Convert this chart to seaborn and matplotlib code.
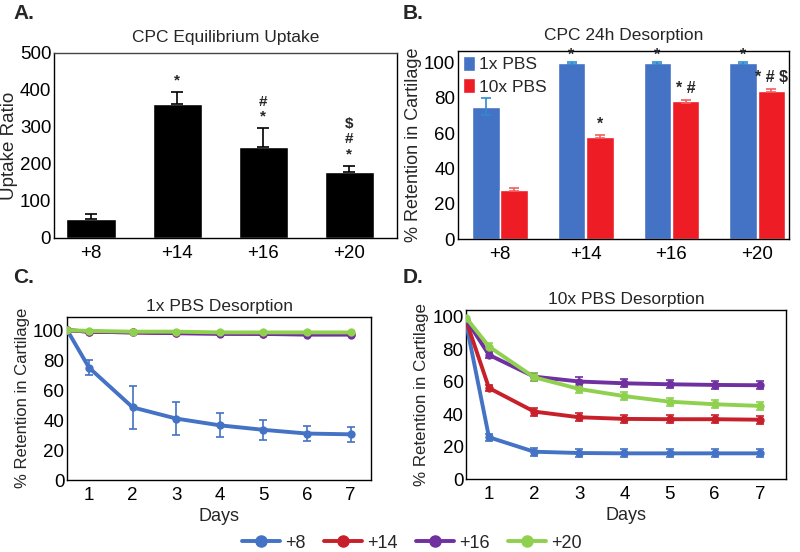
import numpy as np
import pandas as pd
import matplotlib
matplotlib.use("Agg")
import matplotlib.pyplot as plt
import seaborn as sns
from matplotlib.lines import Line2D

sns.set_theme(style="white")
plt.rcParams['font.family'] = ['Liberation Sans', 'DejaVu Sans']

# ---------------- data ----------------
charges = ["+8", "+14", "+16", "+20"]

# Panel A: equilibrium uptake
uptake = [50, 363, 245, 179]
uptake_err = [15, 32, 52, 16]
uptake_marks = ["", "*", "#\n*", "$\n#\n*"]

# Panel B: 24h desorption
pbs1 = [75, 99.5, 99.5, 99.5]
pbs1_err = [5, 0.5, 0.5, 0.5]
pbs10 = [28, 58, 78, 84]
pbs10_err = [0.8, 1.0, 1.0, 1.0]
pbs1_marks = ["", "*", "*", "*"]
pbs10_marks = ["", "*", "* #", "* # $"]

# Panels C & D: time courses
days = [0.5, 1, 2, 3, 4, 5, 6, 7]
day_ticks = [1, 2, 3, 4, 5, 6, 7]
c_p8 = [100, 75, 48.5, 41, 36.5, 33.5, 31, 30.5]
c_p8_err = [0, 5, 14.5, 11, 8, 6.5, 5, 5]
c_p14 = [100, 99, 98.5, 98, 98, 97.5, 97.5, 97.5]
c_p16 = [100, 99, 98.5, 98, 97.5, 97.5, 97, 97]
c_p20 = [100, 99.5, 99, 99, 98.5, 98.5, 98.5, 98.5]
c_small_err = [0, 0.5, 0.5, 0.5, 0.5, 0.5, 0.5, 0.5]

d_p8 = [95, 25.7, 16.8, 16, 15.8, 15.8, 15.8, 15.8]
d_p14 = [97, 56, 41.5, 38, 37, 36.8, 36.8, 36.5]
d_p16 = [98, 76.4, 63, 60, 58.9, 58.3, 57.9, 57.7]
d_p20 = [99, 81.5, 62.6, 55.4, 51, 47.6, 46, 45]
d_err = [0, 2, 2.5, 2.5, 2.5, 2.5, 2.5, 2.5]

line_colors = {"+8": "#4472C4", "+14": "#C8202B", "+16": "#7030A0", "+20": "#8FD14F"}
blue_bar = "#4472C4"
red_bar = "#EE1C25"

fig = plt.figure(figsize=(8, 5.52), dpi=100)

def frame(ax):
    for s in ax.spines.values():
        s.set_visible(True)
        s.set_color("black")
        s.set_linewidth(1.0)
    ax.tick_params(axis="both", length=0, labelsize=13.5, colors="black")
    ax.tick_params(axis="y", pad=2)
    ax.tick_params(axis="x", pad=5)

# ---------------- Panel A ----------------
axA = fig.add_axes([0.0675, 0.569, 0.4285, 0.335])
dfA = pd.DataFrame({"charge": charges, "uptake": uptake})
sns.barplot(data=dfA, x="charge", y="uptake", color="black", width=0.57,
            errorbar=None, ax=axA, saturation=1)
axA.errorbar(range(len(charges)), uptake, yerr=[np.zeros(4), uptake_err],
             fmt="none", ecolor="black", elinewidth=1.2, capsize=4, capthick=1.2)
for i, m in enumerate(uptake_marks):
    if m:
        axA.text(i, uptake[i] + uptake_err[i] + 12, m, ha="center", va="bottom",
                 fontsize=11, fontweight="bold", linespacing=1.1)
axA.set_xlim(-0.43, 3.55)
axA.set_ylim(0, 500)
axA.set_yticks([0, 100, 200, 300, 400, 500])
axA.set_xlabel("")
axA.set_ylabel("Uptake Ratio", fontsize=13.5, labelpad=1)
axA.set_title("CPC Equilibrium Uptake", fontsize=12.5, pad=8)
frame(axA)
axA.spines["top"].set_color("#444444")

# ---------------- Panel B ----------------
axB = fig.add_axes([0.5725, 0.567, 0.4135, 0.3406])
dfB = pd.DataFrame({
    "charge": charges * 2,
    "retention": pbs1 + pbs10,
    "buffer": ["1x PBS"] * 4 + ["10x PBS"] * 4,
})
sns.barplot(data=dfB, x="charge", y="retention", hue="buffer",
            palette=[blue_bar, red_bar], width=0.66, errorbar=None, ax=axB,
            saturation=1, gap=0.03)
off = 0.165
axB.errorbar(np.arange(4) - off, pbs1, yerr=pbs1_err, fmt="none",
             ecolor="#2E8BD0", elinewidth=1.2, capsize=3.5, capthick=1.2)
axB.errorbar(np.arange(4) + off, pbs10, yerr=pbs10_err, fmt="none",
             ecolor="#F06060", elinewidth=1.2, capsize=3.5, capthick=1.2)
for i in range(4):
    if pbs1_marks[i]:
        axB.text(i - off, pbs1[i] + 0.5, pbs1_marks[i], ha="center", va="bottom",
                 fontsize=11.5, fontweight="bold")
    if pbs10_marks[i]:
        axB.text(i + off, pbs10[i] + 3.0, pbs10_marks[i], ha="center", va="bottom",
                 fontsize=11.5, fontweight="bold")
axB.set_xlim(-0.49, 3.37)
axB.set_ylim(0, 106.5)
axB.set_yticks([0, 20, 40, 60, 80, 100])
axB.set_xlabel("")
axB.set_ylabel("% Retention in Cartilage", fontsize=13, labelpad=1)
axB.set_title("CPC 24h Desorption", fontsize=12.5, pad=8)
frame(axB)
leg = axB.legend(loc="upper left", frameon=False, fontsize=12.5, handlelength=0.7,
                 handleheight=0.9, handletextpad=0.2, borderaxespad=0.1,
                 labelspacing=0.35, borderpad=0.2)

# ---------------- Panels C & D ----------------
def line_panel(rect, series, errs, title, ylim, xlim, ylabel_size):
    ax = fig.add_axes(rect)
    rows = []
    for name, vals in series.items():
        for d, v in zip(days, vals):
            rows.append({"day": d, "ret": v, "charge": name})
    df = pd.DataFrame(rows)
    for name, vals in series.items():
        ax.errorbar(days, vals, yerr=errs[name], fmt="none",
                    ecolor=line_colors[name], elinewidth=1.2, capsize=3, capthick=1.2,
                    zorder=2)
    sns.lineplot(data=df, x="day", y="ret", hue="charge", palette=line_colors,
                 hue_order=list(series.keys()), marker="o", markersize=6,
                 markeredgewidth=0, linewidth=2.8, legend=False, ax=ax, zorder=3)
    ax.set_xlim(*xlim)
    ax.set_ylim(*ylim)
    ax.set_xticks(day_ticks)
    ax.set_yticks([0, 20, 40, 60, 80, 100])
    ax.set_xlabel("Days", fontsize=13, labelpad=3)
    ax.set_ylabel("% Retention in Cartilage", fontsize=ylabel_size, labelpad=2)
    ax.set_title(title, fontsize=12.5, pad=4)
    frame(ax)
    return ax

axC = line_panel([0.084, 0.1304, 0.38, 0.2959],
                 {"+8": c_p8, "+14": c_p14, "+16": c_p16, "+20": c_p20},
                 {"+8": c_p8_err, "+14": c_small_err, "+16": c_small_err, "+20": c_small_err},
                 "1x PBS Desorption", (0, 109), (0.5, 7.47), 12)
axD = line_panel([0.583, 0.1322, 0.3995, 0.3062],
                 {"+8": d_p8, "+14": d_p14, "+16": d_p16, "+20": d_p20},
                 {"+8": d_err, "+14": d_err, "+16": d_err, "+20": d_err},
                 "10x PBS Desorption", (0, 104), (0.5, 7.58), 12.2)

# ---------------- shared legend ----------------
handles = [Line2D([0], [0], color=line_colors[c], lw=2.8, marker="o", markersize=8)
           for c in charges]
fig.legend(handles, charges, loc="center", bbox_to_anchor=(0.515, 0.016), ncol=4,
           frameon=False, fontsize=13, handlelength=2.1, handletextpad=0.3,
           columnspacing=1.0)

# ---------------- panel letters ----------------
for lab, x, y in [("A.", 0.017, 0.975), ("B.", 0.503, 0.975),
                  ("C.", 0.017, 0.497), ("D.", 0.503, 0.497)]:
    fig.text(x, y, lab, fontsize=15, fontweight="bold", ha="left", va="center")

fig.savefig("out.png", dpi=100)
